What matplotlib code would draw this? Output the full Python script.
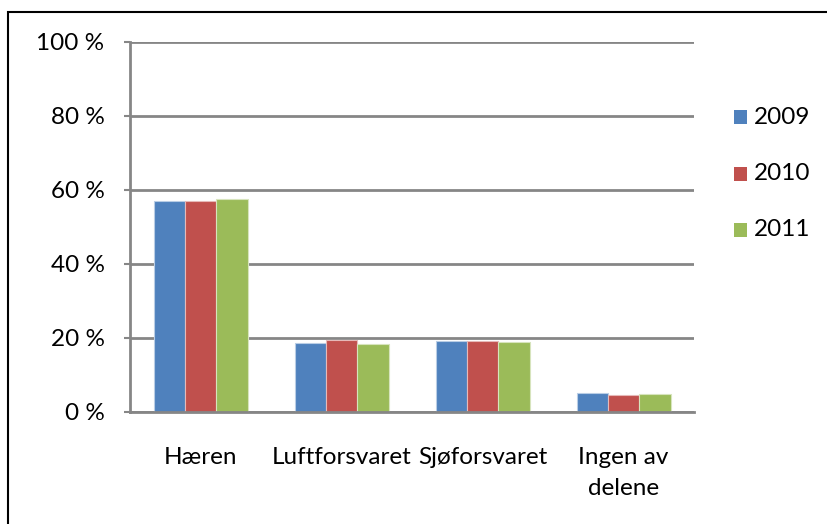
import matplotlib
matplotlib.use("Agg")
import matplotlib.pyplot as plt
import numpy as np
from matplotlib.patches import Rectangle

categories = ["Hæren", "Luftforsvaret", "Sjøforsvaret", "Ingen av\ndelene"]
years = ["2009", "2010", "2011"]
v2009 = [56.9, 18.7, 19.2, 5.2]
v2010 = [57.1, 19.4, 19.1, 4.5]
v2011 = [57.7, 18.4, 18.8, 4.9]
colors = ["#4F81BD", "#C0504D", "#9BBB59"]
edges = ["#B9CDE5", "#E6B9B8", "#D7E4BD"]
yticks = [0, 20, 40, 60, 80, 100]
ytick_labels = ["0 %", "20 %", "40 %", "60 %", "80 %", "100 %"]

plt.rcParams['font.family'] = ['Lato', 'DejaVu Sans']
FS = 17.5

W, H = 827, 524
fig = plt.figure(figsize=(W / 100, H / 100), dpi=100)
fig.patch.set_facecolor("white")

# chart border (only top and left visible)
fig.patches.append(Rectangle((8 / W, -0.1), 2.0, (H - 12) / H + 0.1, transform=fig.transFigure,
                             fill=False, edgecolor="black", linewidth=1.5))

ax = fig.add_axes([130 / W, (H - 412) / H, 564 / W, 370 / H])
x = np.arange(len(categories))
bw = 1 / 4.5
series = [v2009, v2010, v2011]
for i, (vals, c, e) in enumerate(zip(series, colors, edges)):
    ax.bar(x + (i - 1) * bw, vals, width=bw, color=c, edgecolor=e, linewidth=0.8,
           label=years[i], zorder=3)

ax.set_xlim(-0.5, len(categories) - 0.5)
ax.set_ylim(0, 100)
ax.set_yticks(yticks)
ax.set_yticklabels(ytick_labels, fontsize=FS)
ax.set_xticks(x)
ax.set_xticklabels(categories, fontsize=FS, linespacing=1.6)
ax.tick_params(axis="x", length=0, pad=25)
ax.tick_params(axis="y", length=4.3, width=1.5, color="#868686", pad=14)
ax.yaxis.grid(True, color="#868686", linewidth=2, zorder=0)
ax.set_axisbelow(True)
for s in ["top", "right"]:
    ax.spines[s].set_visible(False)
for s in ["left", "bottom"]:
    ax.spines[s].set_color("#868686")
    ax.spines[s].set_linewidth(2)
ax.spines["bottom"].set_zorder(4)

# legend
for i, (y, c) in enumerate(zip(years, colors)):
    ypix = 117 + i * 56.5
    fig.patches.append(Rectangle((734 / W, 1 - (ypix + 7) / H), 13 / W, 14 / H,
                                 transform=fig.transFigure, facecolor=c, edgecolor="none"))
    fig.text(754 / W, 1 - ypix / H, y, fontsize=FS, va="center", ha="left")

fig.savefig("out.png", dpi=100, facecolor="white")
